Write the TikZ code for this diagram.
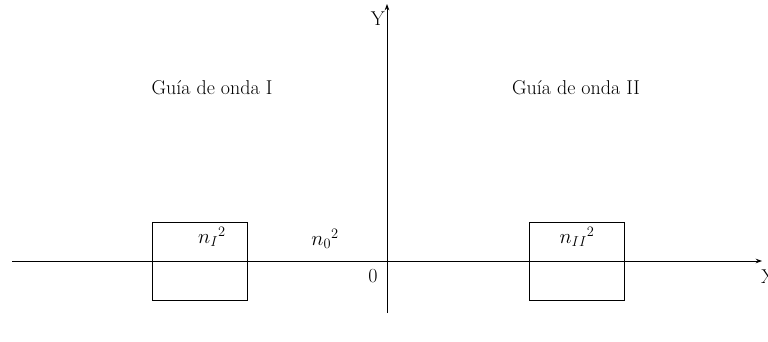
\documentclass[tikz,border=0pt]{standalone}
\usepackage{fontspec}
\usepackage{tikz}
\usetikzlibrary{arrows.meta,positioning}
\tikzset{
  axis/.style={-{Stealth[length=2.2mm,width=1.6mm]}, line width=0.8pt, draw=black},
  guide/.style={draw=black, line width=0.8pt, minimum width=95pt, minimum height=78pt, inner sep=0pt},
  lbl/.style={font=\fontsize{20}{23}\selectfont, inner sep=1pt},
  idx/.style={font=\fontsize{22}{25}\selectfont, inner sep=1pt}
}
\begin{document}
\begin{tikzpicture}[x=1pt, y=-1pt]
  \useasboundingbox (0,0) rectangle (768,342);

  \coordinate (xl) at (12,261);
  \coordinate (xr) at (762,261);
  \coordinate (yb) at (387,313);
  \coordinate (yt) at (387,4);

  \node[guide] (wgI) at (199.5,261) {};
  \node[guide] (wgII) at (577,261) {};

  \draw[axis] (xl) -- (xr);
  \draw[axis] (yb) -- (yt);

  \node[lbl, left=1pt of yt, yshift=-15pt] (ylab) {Y};
  \node[lbl, below=8pt of xr, xshift=6pt] (xlab) {X};
  \node[lbl] (orig) at (373,276) {0};

  \node[lbl] (tI) at (212,88) {Guía de onda I};
  \node[lbl] (tII) at (576,88) {Guía de onda II};

  \node[idx] (nI) at (212,237) {$n_I{}^2$};
  \node[idx] (nII) at (577,237) {$n_{II}{}^2$};
  \node[idx] (n0) at (325,239) {$n_0{}^2$};
\end{tikzpicture}
\end{document}
